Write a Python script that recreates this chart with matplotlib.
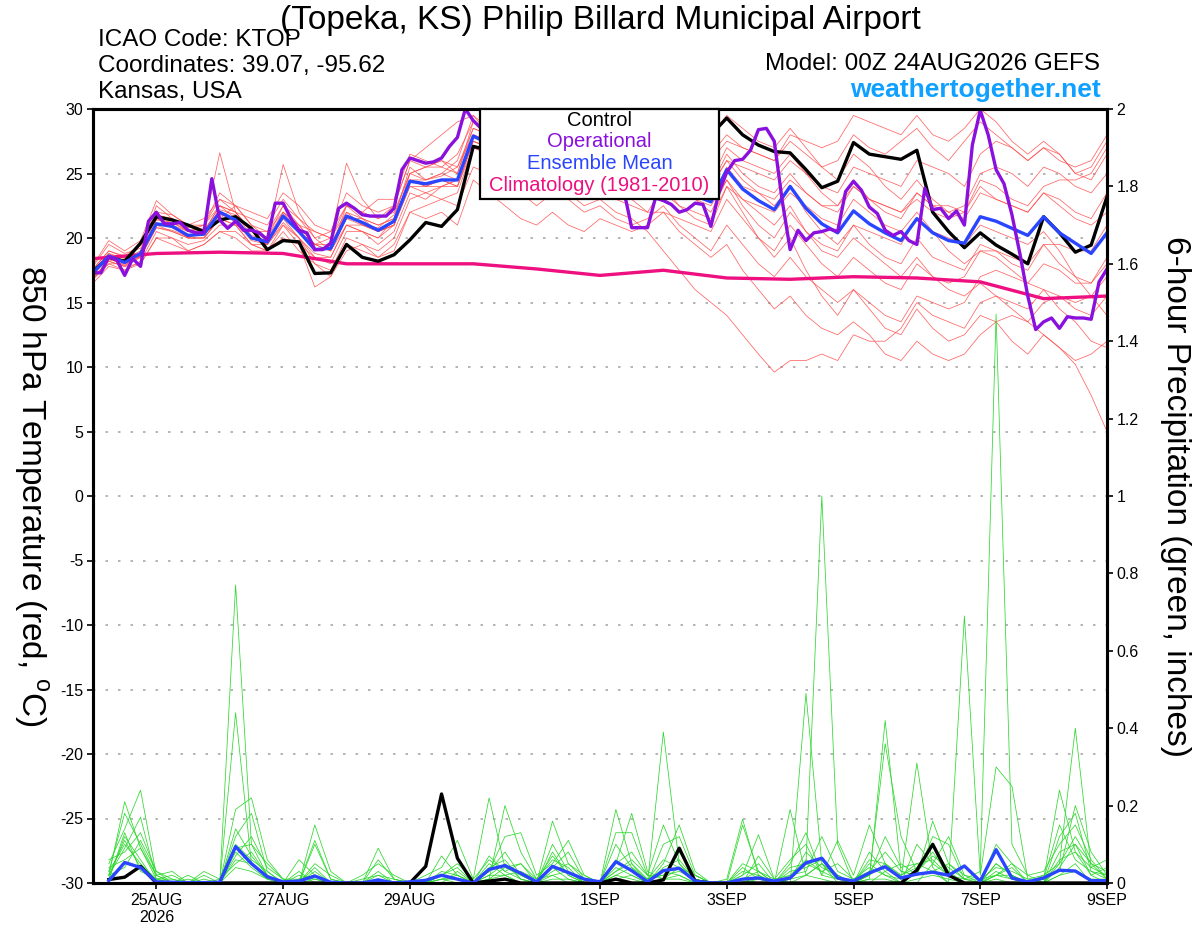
import numpy as np
import matplotlib.pyplot as plt
from matplotlib.patches import Rectangle

plt.rcParams['font.family'] = ['Liberation Sans', 'DejaVu Sans']
plt.rcParams['mathtext.fontset'] = 'custom'
plt.rcParams['mathtext.rm'] = 'Liberation Sans'
plt.rcParams['axes.unicode_minus'] = False

# forecast hours since 24AUG2026 00Z
hours_t = np.arange(0, 385, 6)      # temperature, 6-hourly
hours_p = np.arange(6, 385, 6)      # 6-hour precip accumulations
hours_op = np.arange(0, 385, 3)     # operational run, 3-hourly
hours_clim = np.arange(0, 385, 24)  # daily climatology

tick_hours = [24, 72, 120, 192, 240, 288, 336, 384]
tick_labels = ['25AUG\n2026', '27AUG', '29AUG', '1SEP', '3SEP', '5SEP', '7SEP', '9SEP']

# 850 hPa temperature (C)
control_t = [17.4, 18.5, 18.2, 19.6, 21.65, 21.4, 21.0, 20.5, 21.4, 21.65, 20.75, 19.1, 19.8,
             19.7, 17.25, 17.3, 19.5, 18.5, 18.2, 18.7, 19.85, 21.2, 20.9, 22.2, 27.1, 26.8,
             26.5, 27.0, 26.5, 27.5, 27.0, 26.8, 27.0, 27.5, 27.0, 27.5, 28.0, 27.5, 28.5,
             28.0, 29.3, 28.0, 27.2, 26.7, 26.6, 25.3, 23.9, 24.4, 27.4, 26.5, 26.3, 26.1,
             26.8, 22.0, 20.5, 19.25, 20.4, 19.45, 18.75, 18.0, 21.65, 20.4, 18.9, 19.45, 23.2]

mean_t = [17.3, 18.6, 18.1, 18.8, 21.1, 20.9, 20.2, 20.3, 22.0, 21.4, 20.0, 19.7, 21.7,
          20.5, 19.1, 19.2, 21.7, 21.2, 20.6, 21.3, 24.4, 24.2, 24.5, 24.5, 27.9, 27.3,
          26.5, 26.0, 25.5, 26.0, 25.5, 25.0, 25.3, 24.8, 24.5, 24.0, 24.5, 23.8, 23.3,
          22.8, 25.3, 23.8, 22.9, 22.2, 24.0, 22.3, 21.1, 20.4, 22.1, 21.1, 20.4, 19.8,
          21.5, 20.4, 19.8, 19.6, 21.65, 21.3, 20.75, 20.2, 21.65, 20.4, 19.6, 18.8, 20.4]

oper_t = [17.3, 17.3, 18.55, 18.3, 17.1, 18.4, 17.8, 21.3, 22.0, 21.1, 21.1, 21.2, 20.6, 20.4, 20.4, 24.6,
          21.4, 20.75, 21.3, 20.6, 20.6, 20.4, 19.85, 22.7, 22.7, 21.5, 20.6, 20.4, 19.1, 19.1, 19.6, 22.3,
          22.7, 22.3, 21.8, 21.7, 21.7, 21.7, 22.3, 25.3, 26.2, 26.0, 25.8, 25.9, 26.2, 27.1, 27.8, 30.0,
          29.1, 28.5, 28.0, 27.5, 27.0, 26.5, 27.0, 26.5, 26.0, 26.5, 27.0, 26.5, 26.0, 25.5, 26.0, 25.5,
          25.0, 25.5, 24.5, 23.7, 20.8, 20.8, 20.8, 23.1, 22.9, 22.6, 22.0, 22.2, 22.7, 22.6, 20.9, 23.5,
          25.1, 26.0, 26.1, 26.8, 28.4, 28.5, 27.5, 22.9, 19.1, 20.6, 19.8, 20.4, 20.5, 20.7, 20.5, 23.6,
          24.4, 23.7, 22.4, 21.9, 20.6, 20.2, 20.5, 19.8, 19.5, 23.85, 22.2, 22.3, 21.5, 22.1, 21.0, 27.2,
          29.9, 28.0, 25.3, 24.2, 21.8, 18.8, 15.5, 12.9, 13.5, 13.8, 13.0, 13.9, 13.8, 13.8, 13.7, 16.6,
          17.6]

clim_t = [18.4, 18.8, 18.9, 18.8, 18.0, 18.0, 18.0, 17.6, 17.1, 17.5, 16.9, 16.8, 17.0, 16.9, 16.6, 15.3, 15.5]

temp_members = [
    [17.0, 18.2, 17.8, 19.0, 22.5, 21.5, 20.5, 20.8, 26.6, 22.0, 20.5, 19.5, 22.0,
     21.0, 19.5, 19.0, 22.5, 21.5, 20.5, 21.0, 25.0, 25.5, 26.0, 25.5, 28.5, 28.0,
     27.0, 26.0, 25.0, 26.5, 26.0, 25.0, 25.5, 24.0, 23.0, 22.0, 24.0, 22.5, 21.5,
     21.0, 24.0, 22.0, 20.0, 18.5, 20.0, 17.5, 15.5, 14.0, 16.0, 14.5, 13.0, 12.5,
     14.5, 13.0, 12.0, 12.5, 14.0, 13.5, 12.0, 11.0, 12.5, 11.5, 10.5, 11.0, 12.0],
    [17.6, 19.0, 18.5, 18.5, 21.0, 21.0, 20.0, 20.0, 21.5, 22.5, 21.0, 20.0, 25.7,
     22.0, 20.0, 19.0, 21.0, 20.5, 19.5, 20.5, 23.5, 23.0, 24.0, 24.5, 28.0, 27.5,
     26.0, 26.5, 26.0, 27.0, 26.0, 25.5, 26.0, 25.5, 25.0, 25.0, 26.0, 25.0, 24.5,
     24.0, 26.5, 25.0, 24.0, 23.5, 25.0, 23.5, 22.5, 22.0, 24.0, 23.0, 22.5, 22.0,
     23.5, 22.5, 22.0, 21.5, 23.5, 23.0, 22.5, 22.0, 23.5, 22.5, 21.5, 21.0, 22.0],
    [16.8, 18.0, 17.5, 18.2, 20.5, 20.0, 19.5, 19.8, 21.0, 21.0, 19.5, 19.0, 21.0,
     19.5, 18.5, 18.0, 20.5, 20.5, 20.0, 21.5, 25.5, 24.5, 25.0, 26.0, 29.5, 28.0,
     27.5, 27.0, 26.5, 27.5, 27.0, 26.5, 27.0, 26.0, 26.5, 26.0, 27.0, 26.5, 27.0,
     26.5, 28.0, 27.0, 26.5, 26.0, 27.5, 26.5, 25.5, 26.0, 28.0, 27.0, 26.5, 27.5,
     28.5, 27.0, 26.0, 27.5, 29.0, 28.0, 27.0, 26.0, 27.0, 26.0, 25.5, 26.0, 28.0],
    [17.5, 18.8, 18.0, 19.5, 21.5, 21.0, 20.0, 20.5, 22.5, 21.5, 20.0, 19.5, 21.5,
     20.0, 18.5, 18.5, 21.0, 20.5, 20.0, 21.0, 24.0, 24.0, 24.5, 24.0, 27.5, 27.0,
     26.0, 25.5, 24.5, 25.5, 25.0, 24.0, 25.0, 24.5, 24.0, 23.0, 24.0, 23.5, 23.0,
     22.5, 24.5, 22.5, 21.0, 20.0, 22.0, 20.5, 19.0, 18.5, 20.0, 19.0, 18.0, 17.0,
     18.5, 17.0, 16.0, 15.5, 16.5, 15.5, 14.5, 13.5, 12.5, 11.5, 10.2, 7.8, 5.0],
    [17.2, 18.5, 18.3, 18.8, 21.0, 20.5, 20.0, 20.0, 21.5, 21.0, 20.5, 20.5, 22.5,
     21.0, 19.5, 20.0, 22.0, 21.5, 21.0, 21.5, 24.5, 24.0, 24.5, 24.0, 27.0, 26.5,
     25.5, 25.0, 24.0, 24.5, 23.5, 22.5, 23.0, 22.0, 21.5, 20.5, 19.0, 17.5, 16.0,
     15.0, 14.0, 12.5, 11.0, 9.6, 10.5, 10.5, 11.0, 10.5, 12.5, 12.0, 12.0, 13.0,
     15.0, 14.0, 13.5, 13.0, 15.0, 15.5, 15.0, 14.5, 16.0, 15.5, 14.5, 14.0, 15.5],
    [17.8, 19.5, 18.8, 19.2, 21.8, 21.5, 20.8, 21.0, 23.0, 22.0, 20.5, 20.0, 22.5,
     21.5, 20.0, 20.5, 23.5, 22.5, 22.0, 22.5, 26.0, 25.5, 26.0, 25.0, 29.0, 28.5,
     27.5, 27.5, 27.0, 28.0, 27.5, 27.0, 28.0, 27.5, 27.0, 27.5, 28.5, 28.0, 28.5,
     28.0, 29.5, 28.5, 27.5, 27.0, 28.5, 27.0, 25.5, 24.5, 26.5, 25.5, 24.0, 23.0,
     24.5, 23.0, 22.0, 22.5, 25.0, 25.5, 25.0, 24.0, 25.5, 25.0, 24.0, 23.5, 25.0],
    [16.5, 17.8, 17.5, 18.0, 20.0, 20.0, 19.0, 19.5, 20.5, 20.5, 19.5, 19.0, 20.5,
     19.0, 18.0, 17.0, 19.5, 19.0, 18.5, 19.5, 22.0, 22.5, 23.0, 22.5, 25.5, 25.0,
     24.0, 23.5, 22.5, 23.5, 23.0, 22.0, 22.5, 21.5, 21.0, 21.5, 22.5, 21.0, 20.0,
     19.0, 21.0, 19.5, 18.0, 17.0, 18.5, 17.0, 16.0, 15.0, 16.0, 15.0, 14.0, 13.5,
     15.5, 15.0, 14.5, 15.0, 17.0, 17.5, 17.0, 16.5, 18.0, 17.5, 16.5, 16.5, 18.0],
    [17.4, 18.8, 18.4, 19.0, 21.5, 21.2, 20.5, 20.5, 22.5, 22.0, 21.5, 21.0, 23.0,
     21.5, 20.5, 20.0, 25.8, 23.0, 21.5, 22.0, 25.0, 25.5, 25.5, 26.5, 29.0, 28.0,
     27.0, 26.5, 26.0, 26.5, 26.0, 25.5, 26.0, 25.0, 24.5, 24.5, 25.0, 24.5, 24.0,
     24.0, 26.0, 25.5, 25.0, 24.5, 26.0, 25.0, 24.0, 23.5, 25.5, 25.0, 24.5, 24.0,
     26.0, 25.5, 25.0, 24.0, 26.5, 27.5, 27.0, 26.0, 27.0, 26.5, 25.0, 24.5, 26.5],
    [17.0, 18.0, 18.0, 18.5, 20.8, 20.5, 20.0, 20.0, 21.5, 21.0, 19.5, 19.5, 21.0,
     20.0, 18.0, 17.5, 20.0, 19.5, 19.0, 20.0, 23.0, 23.5, 23.0, 23.5, 27.0, 26.5,
     25.5, 25.0, 25.5, 25.0, 24.5, 24.0, 24.5, 24.0, 23.5, 23.0, 23.5, 22.5, 22.0,
     21.5, 24.0, 23.0, 22.5, 22.0, 23.5, 22.5, 21.5, 21.0, 23.0, 22.0, 21.0, 20.5,
     22.0, 20.5, 19.0, 18.0, 19.0, 18.5, 17.5, 16.5, 16.0, 14.5, 13.5, 12.0, 11.5],
    [17.3, 18.5, 17.8, 18.5, 21.0, 21.0, 20.5, 21.0, 23.5, 22.5, 21.0, 20.5, 22.0,
     21.0, 20.5, 20.0, 22.5, 22.0, 21.5, 22.5, 26.0, 27.0, 28.0, 29.0, 29.5, 28.5,
     28.0, 27.5, 27.0, 27.5, 27.0, 26.5, 27.0, 26.5, 26.0, 26.0, 26.5, 25.5, 25.0,
     24.5, 27.0, 26.0, 25.5, 25.0, 26.5, 25.0, 23.5, 22.5, 24.0, 23.0, 22.5, 22.0,
     23.0, 22.0, 21.5, 22.0, 24.5, 24.0, 23.0, 22.5, 24.0, 24.5, 24.5, 25.0, 27.0],
    [16.8, 18.2, 17.8, 18.0, 20.0, 19.5, 19.0, 19.5, 20.5, 20.0, 19.0, 19.0, 20.0,
     19.5, 16.2, 17.0, 19.0, 19.5, 18.5, 19.0, 22.0, 21.5, 22.0, 21.0, 24.5, 23.5,
     22.5, 21.5, 21.0, 22.0, 21.0, 20.5, 21.5, 21.0, 20.5, 21.0, 22.0, 21.5, 21.0,
     20.5, 23.0, 21.5, 20.0, 19.0, 21.0, 19.5, 18.0, 17.0, 18.5, 17.5, 16.5, 16.0,
     18.0, 17.0, 16.5, 17.0, 19.0, 19.0, 18.0, 17.5, 19.5, 19.5, 19.0, 19.0, 21.0],
    [17.6, 19.0, 18.6, 19.5, 22.0, 21.8, 21.0, 21.0, 22.5, 22.0, 20.5, 20.0, 22.0,
     20.5, 19.5, 19.5, 22.0, 21.0, 20.5, 21.0, 24.5, 24.5, 25.0, 24.5, 28.0, 27.5,
     27.0, 26.0, 25.5, 26.0, 25.0, 24.0, 24.0, 23.0, 22.5, 22.0, 22.0, 20.5, 19.5,
     18.5, 19.5, 17.5, 16.0, 14.5, 15.5, 14.0, 13.0, 12.5, 13.5, 12.5, 11.0, 10.5,
     12.0, 11.0, 10.5, 11.0, 12.5, 13.5, 14.0, 13.5, 15.0, 15.5, 15.0, 15.5, 17.0],
    [17.1, 18.6, 18.2, 18.8, 21.2, 20.8, 20.2, 20.2, 21.8, 21.5, 20.0, 19.8, 21.8,
     20.5, 19.0, 19.5, 21.5, 21.0, 20.5, 21.0, 24.0, 23.5, 24.0, 24.0, 27.5, 27.0,
     26.5, 26.0, 26.0, 26.5, 26.5, 26.0, 26.5, 26.0, 26.0, 25.5, 26.5, 26.0, 26.5,
     26.0, 27.5, 27.0, 26.5, 26.0, 28.0, 27.5, 27.0, 27.5, 29.5, 29.0, 28.5, 28.0,
     29.5, 28.0, 27.5, 28.5, 30.0, 29.0, 27.5, 26.5, 27.5, 26.5, 25.0, 25.5, 27.5],
    [17.9, 19.8, 19.0, 19.8, 22.9, 21.8, 21.0, 21.5, 23.0, 22.5, 22.0, 21.5, 23.5,
     22.5, 21.0, 20.5, 22.5, 22.0, 23.0, 23.0, 26.5, 26.0, 25.5, 25.0, 28.5, 28.0,
     27.0, 26.5, 25.5, 26.0, 25.5, 25.0, 25.5, 25.0, 24.5, 24.0, 24.5, 23.5, 23.0,
     22.0, 24.5, 23.0, 22.0, 21.0, 22.5, 20.5, 19.5, 19.0, 21.0, 20.5, 20.0, 19.5,
     21.5, 20.5, 20.0, 19.5, 21.0, 20.5, 20.0, 19.5, 20.5, 19.0, 17.0, 15.5, 14.0],
    [17.3, 18.4, 17.9, 18.6, 20.8, 20.6, 20.1, 20.4, 22.0, 21.2, 19.8, 19.5, 21.2,
     20.0, 18.8, 18.5, 21.0, 21.0, 20.8, 21.8, 25.0, 24.5, 24.8, 25.5, 28.0, 27.5,
     26.5, 26.0, 25.0, 25.5, 25.0, 24.5, 25.0, 24.5, 24.5, 24.0, 25.0, 24.0, 23.5,
     23.0, 25.5, 24.0, 23.5, 23.0, 24.5, 23.5, 22.5, 22.5, 24.5, 23.0, 22.0, 21.5,
     23.5, 22.5, 22.5, 22.0, 24.0, 23.0, 22.5, 22.0, 23.5, 23.0, 22.0, 21.5, 23.5],
    [16.9, 18.3, 18.1, 18.6, 21.4, 21.2, 20.6, 20.6, 22.2, 21.8, 20.2, 19.8, 21.6,
     20.8, 19.5, 19.0, 21.5, 21.5, 21.0, 21.5, 24.5, 24.0, 24.0, 24.5, 27.5, 27.0,
     26.0, 25.5, 25.5, 26.5, 26.0, 25.5, 26.0, 25.5, 25.5, 25.0, 25.5, 25.0, 24.5,
     24.0, 26.0, 24.5, 23.5, 22.5, 24.0, 22.0, 20.5, 19.5, 21.0, 19.5, 18.5, 18.0,
     20.0, 18.5, 18.0, 17.5, 19.5, 19.0, 18.5, 18.0, 19.5, 18.0, 17.0, 16.5, 18.5],
]

# 6-hour precipitation (inches)
control_p = [0.009, 0.015, 0.043, 0, 0, 0, 0, 0, 0, 0, 0, 0, 0, 0, 0, 0,
             0, 0, 0, 0, 0.043, 0.23, 0.064, 0, 0.005, 0.01, 0, 0, 0, 0, 0, 0,
             0.01, 0, 0, 0.008, 0.09, 0.005, 0, 0, 0, 0, 0, 0, 0, 0, 0, 0,
             0, 0, 0, 0.033, 0.10, 0.02, 0, 0, 0, 0, 0, 0, 0, 0, 0, 0]

mean_p = [0.006, 0.053, 0.04, 0.003, 0.002, 0.001, 0.001, 0.002, 0.094, 0.05, 0.016, 0.003, 0.005, 0.018, 0.002, 0.0,
          0.0, 0.008, 0.0, 0.003, 0.007, 0.02, 0.01, 0.0, 0.035, 0.045, 0.025, 0.003, 0.043, 0.027, 0.01, 0.003,
          0.055, 0.032, 0.003, 0.032, 0.038, 0.005, 0.0, 0.0, 0.01, 0.013, 0.005, 0.013, 0.052, 0.064, 0.013, 0.005,
          0.026, 0.042, 0.013, 0.023, 0.028, 0.02, 0.044, 0.005, 0.086, 0.013, 0.003, 0.013, 0.033, 0.031, 0.006, 0.006]

precip_members = [
    [0.02, 0.21, 0.09, 0.01, 0, 0, 0, 0, 0.77, 0.10, 0.02, 0, 0.03, 0, 0, 0,
     0, 0, 0, 0, 0, 0.02, 0.01, 0, 0.05, 0.02, 0, 0, 0.04, 0.01, 0, 0,
     0.02, 0.01, 0, 0.39, 0.05, 0, 0, 0, 0, 0.02, 0, 0.01, 0.05, 1.00, 0.10, 0,
     0, 0.03, 0, 0, 0.05, 0.02, 0, 0, 0.10, 0.05, 0, 0, 0.02, 0.05, 0, 0.01],
    [0.05, 0.14, 0.24, 0.02, 0.03, 0, 0, 0, 0.44, 0.05, 0.01, 0, 0, 0.15, 0.03, 0,
     0, 0.09, 0.01, 0, 0, 0.07, 0.02, 0, 0.01, 0.20, 0.08, 0.01, 0.02, 0, 0, 0,
     0.19, 0.05, 0, 0.05, 0.15, 0.03, 0, 0, 0.02, 0.125, 0.01, 0, 0.49, 0.05, 0, 0,
     0.02, 0.05, 0.01, 0.31, 0.04, 0, 0, 0, 0.05, 0.02, 0, 0.01, 0.24, 0.08, 0.02, 0],
    [0.01, 0.12, 0.06, 0, 0, 0.02, 0, 0, 0.19, 0.22, 0.06, 0.01, 0, 0.11, 0.01, 0,
     0, 0, 0, 0, 0.02, 0.04, 0.11, 0.01, 0.22, 0.04, 0.02, 0, 0.16, 0.05, 0.01, 0,
     0.05, 0.18, 0.03, 0.01, 0.02, 0, 0, 0, 0.15, 0.03, 0, 0.19, 0.02, 0.05, 0.01, 0,
     0.01, 0.42, 0.03, 0.02, 0.16, 0.05, 0.01, 0, 0.02, 0.01, 0, 0.02, 0.05, 0.40, 0.04, 0.02],
    [0.03, 0.10, 0.05, 0.01, 0.02, 0, 0, 0.01, 0.10, 0.06, 0.03, 0, 0.06, 0.02, 0, 0,
     0, 0.06, 0.01, 0, 0, 0.01, 0, 0, 0.03, 0.12, 0.13, 0.02, 0.05, 0.11, 0.02, 0,
     0.13, 0.13, 0.02, 0.15, 0.05, 0.01, 0, 0, 0.01, 0, 0, 0.05, 0.13, 0.02, 0.11, 0.02,
     0.15, 0.05, 0.02, 0.05, 0.03, 0, 0.69, 0.02, 0.30, 0.25, 0.01, 0, 0.05, 0.12, 0.05, 0.01],
    [0.06, 0.08, 0.13, 0.03, 0, 0, 0.02, 0, 0.07, 0.12, 0.04, 0.01, 0, 0.04, 0, 0,
     0, 0.02, 0, 0, 0, 0, 0.03, 0, 0.02, 0.05, 0.01, 0, 0.10, 0.03, 0, 0,
     0.02, 0.04, 0.01, 0.02, 0.03, 0.01, 0, 0.01, 0.165, 0.02, 0, 0.01, 0.02, 0.05, 0.02, 0,
     0.02, 0.36, 0.12, 0.03, 0.08, 0.02, 0.01, 0.03, 1.47, 0.10, 0.02, 0, 0.12, 0.18, 0.03, 0.02],
    [0.02, 0.11, 0.04, 0, 0, 0, 0.03, 0.01, 0.05, 0.08, 0.02, 0, 0, 0.05, 0.02, 0,
     0.02, 0.05, 0.02, 0, 0, 0.02, 0.05, 0.01, 0.06, 0.03, 0.05, 0.01, 0.06, 0.04, 0, 0,
     0.03, 0.06, 0.02, 0.02, 0.08, 0.02, 0, 0, 0, 0.07, 0.01, 0.06, 0.10, 0.02, 0.01, 0,
     0.08, 0.03, 0.05, 0.02, 0.12, 0.10, 0.01, 0, 0.02, 0.05, 0.02, 0.03, 0.10, 0.15, 0.06, 0.01],
    [0.01, 0.13, 0.03, 0.01, 0, 0.01, 0, 0, 0.06, 0.05, 0.02, 0, 0.02, 0.01, 0, 0,
     0.01, 0.02, 0.01, 0, 0, 0.01, 0.02, 0, 0.03, 0.08, 0.02, 0, 0.04, 0.08, 0.01, 0,
     0.04, 0.02, 0, 0.10, 0.12, 0.02, 0, 0, 0.03, 0.02, 0, 0.02, 0.03, 0.12, 0.03, 0.01,
     0.04, 0.02, 0, 0.10, 0.05, 0.12, 0.02, 0, 0.05, 0.02, 0, 0, 0.08, 0.10, 0.02, 0.04],
    [0.04, 0.06, 0.09, 0.02, 0, 0, 0.01, 0, 0.08, 0.04, 0.01, 0, 0.01, 0.02, 0, 0,
     0, 0.01, 0, 0, 0, 0.03, 0.02, 0, 0.02, 0.02, 0.03, 0.01, 0.07, 0.02, 0, 0,
     0.06, 0.03, 0.01, 0.03, 0.02, 0, 0, 0, 0.05, 0.03, 0.01, 0.02, 0.06, 0.03, 0.05, 0.01,
     0.03, 0.08, 0.03, 0.02, 0.03, 0.05, 0.02, 0.01, 0.04, 0.03, 0.01, 0.02, 0.03, 0.20, 0.08, 0.02],
    [0.02, 0.09, 0.17, 0.01, 0.01, 0, 0, 0, 0.12, 0.18, 0.03, 0, 0, 0.10, 0.01, 0,
     0, 0.03, 0, 0, 0, 0.02, 0.04, 0, 0.07, 0.03, 0.01, 0, 0.02, 0.03, 0, 0,
     0.10, 0.04, 0, 0.04, 0.06, 0.01, 0, 0, 0.02, 0.05, 0, 0.03, 0.04, 0.06, 0.02, 0,
     0.06, 0.05, 0.02, 0.04, 0.10, 0.03, 0, 0, 0.03, 0.01, 0, 0.01, 0.15, 0.06, 0.03, 0.01],
    [0.03, 0.18, 0.10, 0.02, 0, 0, 0, 0, 0.14, 0.07, 0.02, 0, 0, 0.03, 0, 0,
     0, 0.01, 0, 0, 0, 0, 0, 0, 0.04, 0.06, 0.01, 0, 0.03, 0.05, 0.02, 0,
     0.05, 0.08, 0.02, 0.01, 0.04, 0.02, 0, 0, 0.01, 0.03, 0, 0.01, 0.08, 0.04, 0.02, 0,
     0.02, 0.12, 0.04, 0.05, 0.06, 0.02, 0, 0, 0.02, 0.04, 0, 0, 0.04, 0.10, 0.05, 0.03],
    [0.02, 0.04, 0.11, 0.03, 0.01, 0, 0, 0, 0.09, 0.10, 0.05, 0.01, 0.01, 0.02, 0, 0,
     0, 0.01, 0, 0, 0, 0.01, 0.01, 0, 0.01, 0.04, 0.05, 0, 0.08, 0.02, 0, 0,
     0.03, 0.05, 0.01, 0.06, 0.04, 0.01, 0, 0, 0.04, 0.01, 0, 0.04, 0.05, 0.03, 0.01, 0,
     0.05, 0.02, 0.01, 0.03, 0.07, 0.04, 0.01, 0.01, 0.02, 0.02, 0, 0, 0.06, 0.08, 0.04, 0.06],
    [0.01, 0.05, 0.04, 0, 0, 0, 0, 0, 0.04, 0.03, 0.01, 0, 0, 0.01, 0, 0,
     0, 0, 0, 0, 0, 0, 0, 0, 0.01, 0.02, 0, 0, 0.01, 0.01, 0, 0,
     0.01, 0.02, 0, 0.01, 0.01, 0, 0, 0, 0, 0.01, 0, 0, 0.02, 0.01, 0, 0,
     0.01, 0.01, 0, 0.01, 0.02, 0.01, 0, 0, 0.01, 0, 0, 0, 0.02, 0.03, 0.01, 0.01],
]

legend_labels = ['Control', 'Operational', 'Ensemble Mean', 'Climatology (1981-2010)']
legend_colors = ['black', '#8a10dd', '#2a45ff', '#ee1080']

red = '#ff4a4a'
green = '#2ed82e'

fig = plt.figure(figsize=(12, 9.27), dpi=100)
ax = fig.add_axes([93 / 1200, 44 / 927, 1014 / 1200, 774 / 927])
ax2 = ax.twinx()

# temperature
for m in temp_members:
    ax.plot(hours_t, m, color=red, lw=0.55, alpha=0.85)
ax.plot(hours_clim, clim_t, color=legend_colors[3], lw=2.4)
ax.plot(hours_t, control_t, color=legend_colors[0], lw=2.4)
ax.plot(hours_t, mean_t, color=legend_colors[2], lw=2.4)
ax.plot(hours_op, oper_t, color=legend_colors[1], lw=2.4)

ax.set_xlim(0, 384)
ax.set_ylim(-30, 30)
ax.set_yticks(np.arange(-30, 31, 5))
ax.set_xticks(tick_hours)
ax.set_xticklabels(tick_labels)
ax.yaxis.grid(True, color='#a8a8a8', linestyle=(0, (1.5, 6)), lw=1.2)
ax.tick_params(direction='out', length=4, width=1.2, labelsize=11.5, pad=3)

# precipitation
for m in precip_members:
    ax2.plot(hours_p, m, color=green, lw=0.55)
ax2.plot(hours_p, control_p, color='black', lw=2.4)
ax2.plot(hours_p, mean_p, color=legend_colors[2], lw=2.4)
ax2.set_ylim(0, 2)
pt = np.arange(0, 2.01, 0.2)
ax2.set_yticks(pt)
ax2.set_yticklabels([f'{v:g}' for v in np.round(pt, 1)])
ax2.tick_params(direction='out', length=4, width=1.2, labelsize=11.5, pad=3)

for a in (ax, ax2):
    for s in a.spines.values():
        s.set_linewidth(2.2)

# legend box
ax2.add_patch(Rectangle((0.3817, 0.8837), 0.2357, 0.1163, transform=ax2.transAxes,
                        facecolor='white', edgecolor='black', lw=1.6, zorder=10, clip_on=False))
for lab, col, yy in zip(legend_labels, legend_colors, [0.9849, 0.9574, 0.9296, 0.9018]):
    ax2.text(0.4995, yy, lab, color=col, fontsize=14.5, ha='center', va='center',
             transform=ax2.transAxes, zorder=11)

# axis titles
fig.text(31 / 1200, 1 - 496 / 927, '850 hPa Temperature (red, $^\\mathrm{o}$C)',
         rotation=270, fontsize=24, ha='center', va='center')
fig.text(1175 / 1200, 1 - 496 / 927, '6-hour Precipitation (green, inches)',
         rotation=270, fontsize=24, ha='center', va='center')

# header
fig.text(0.5, 1 - 20 / 927, '(Topeka, KS) Philip Billard Municipal Airport',
         fontsize=24, ha='center', va='center')
fig.text(98 / 1200, 1 - 40 / 927, 'ICAO Code: KTOP', fontsize=17.5, ha='left', va='center')
fig.text(98 / 1200, 1 - 66 / 927, 'Coordinates: 39.07, -95.62', fontsize=17.5, ha='left', va='center')
fig.text(98 / 1200, 1 - 92 / 927, 'Kansas, USA', fontsize=17.5, ha='left', va='center')
fig.text(1100 / 1200, 1 - 64 / 927, 'Model: 00Z 24AUG2026 GEFS', fontsize=17.5, ha='right', va='center')
fig.text(1101 / 1200, 1 - 90 / 927, 'weathertogether.net', fontsize=19, fontweight='bold',
         color='#10a0ff', ha='right', va='center')

fig.savefig('out.png', dpi=100)
